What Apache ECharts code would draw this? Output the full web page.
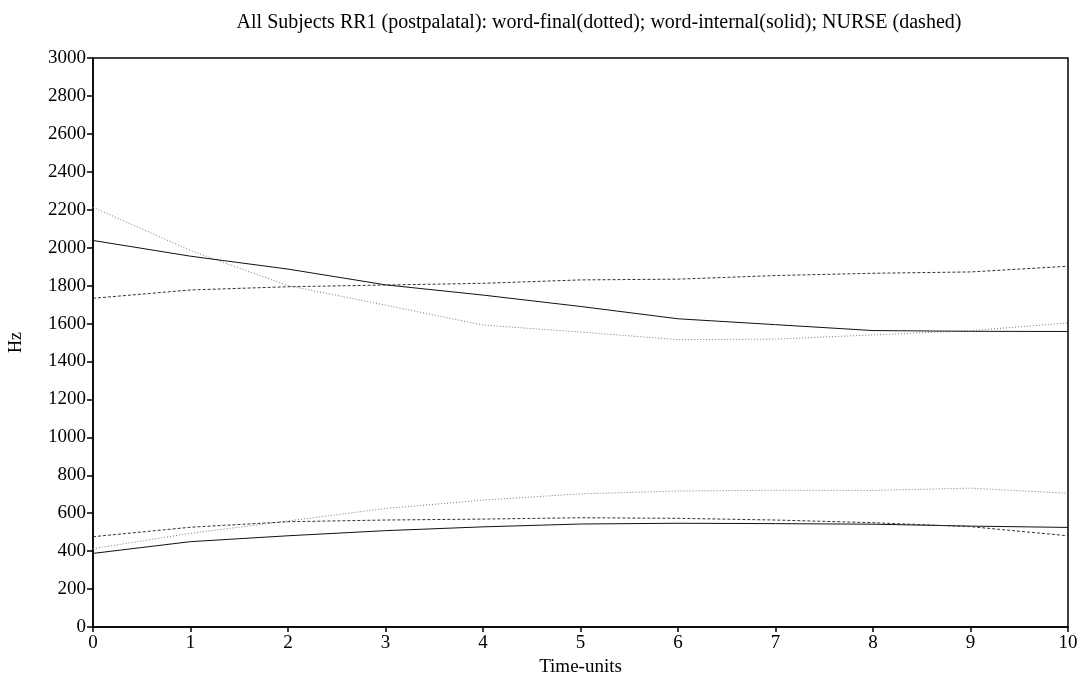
<!DOCTYPE html>
<html>
<head>
<meta charset="utf-8">
<script src="https://cdn.jsdelivr.net/npm/echarts@6/dist/echarts.min.js"></script>
<style>
  html, body { margin: 0; padding: 0; background: #fff; }
  #chart { width: 1085px; height: 677px; }
</style>
</head>
<body>
<div id="chart"></div>
<script>
// time points
const timeUnits = [0, 1, 2, 3, 4, 5, 6, 7, 8, 9, 10];
// word-final (dotted)
const finalUpper = [2213, 1985, 1800, 1697, 1592, 1555, 1515, 1518, 1540, 1562, 1603];
const finalLower = [413, 494, 559, 625, 669, 702, 717, 721, 720, 732, 705];
// word-internal (solid)
const internalUpper = [2038, 1955, 1887, 1804, 1750, 1690, 1625, 1594, 1563, 1559, 1558];
const internalLower = [388, 450, 481, 508, 528, 543, 547, 545, 542, 532, 525];
// NURSE (dashed)
const nurseUpper = [1733, 1777, 1794, 1803, 1812, 1830, 1834, 1853, 1865, 1872, 1902];
const nurseLower = [476, 526, 555, 564, 569, 576, 573, 564, 550, 529, 481];

const serif = "Liberation Serif";

function pairs(ys) {
  return timeUnits.map((t, i) => [t, ys[i]]);
}

function line(name, ys, color, type) {
  return {
    name: name,
    type: "line",
    data: pairs(ys),
    showSymbol: false,
    symbol: "none",
    silent: true,
    animation: false,
    lineStyle: { color: color, width: 1, type: type },
  };
}

const chart = echarts.init(document.getElementById("chart"));
chart.setOption({
  backgroundColor: "#fff",
  animation: false,
  title: {
    text: "All Subjects RR1 (postpalatal): word-final(dotted); word-internal(solid); NURSE (dashed)",
    left: 594,
    textAlign: "center",
    top: 8,
    textStyle: { fontFamily: serif, fontSize: 20, fontWeight: "normal", color: "#000" },
  },
  grid: {
    left: 93, right: 17, top: 58, bottom: 50,
    containLabel: false, outerBoundsMode: "none",
    show: true, borderColor: "#000", borderWidth: 1.5,
  },
  xAxis: {
    type: "value",
    min: 0,
    max: 10,
    interval: 1,
    name: "Time-units",
    nameLocation: "middle",
    nameGap: 25,
    nameTextStyle: { fontFamily: serif, fontSize: 19, color: "#000" },
    axisLine: { show: true, onZero: false, lineStyle: { color: "#000", width: 1.5 } },
    axisTick: { show: true, length: 5, lineStyle: { color: "#000", width: 1.5 } },
    axisLabel: { fontFamily: serif, fontSize: 19, color: "#000", margin: 7 },
    splitLine: { show: false },
  },
  yAxis: {
    type: "value",
    min: 0,
    max: 3000,
    interval: 200,
    name: "Hz",
    nameLocation: "middle",
    nameGap: 68,
    nameTextStyle: { fontFamily: serif, fontSize: 18, color: "#000" },
    axisLine: { show: true, lineStyle: { color: "#000", width: 1.5 } },
    axisTick: { show: true, length: 6, lineStyle: { color: "#000", width: 1.5 } },
    axisLabel: { fontFamily: serif, fontSize: 19, color: "#000", margin: 7, formatter: (v) => String(v) },
    splitLine: { show: false },
  },
  series: [
    line("word-final F2", finalUpper, "#777", [1, 2]),
    line("word-final F1", finalLower, "#777", [1, 2]),
    line("word-internal F2", internalUpper, "#111", "solid"),
    line("word-internal F1", internalLower, "#111", "solid"),
    line("NURSE F2", nurseUpper, "#333", [3, 2]),
    line("NURSE F1", nurseLower, "#333", [3, 2]),
  ],
});
</script>
</body>
</html>
